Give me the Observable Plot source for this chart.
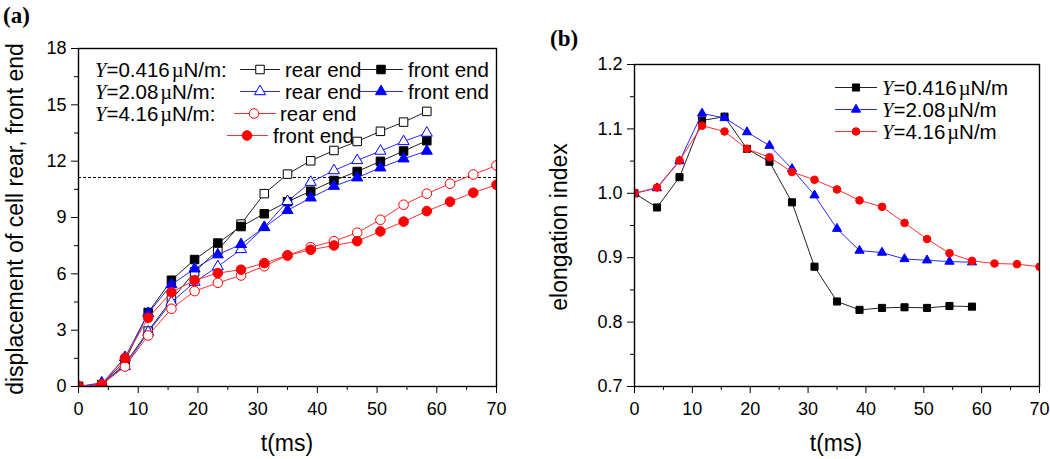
<!DOCTYPE html>
<html>
<head>
<meta charset="utf-8">
<script src="https://cdn.jsdelivr.net/npm/d3@7"></script>
<script src="https://cdn.jsdelivr.net/npm/@observablehq/plot@0.6"></script>
<style>
  html, body { margin: 0; padding: 0; background: #fff; }
  #wrap { position: relative; width: 1050px; height: 459px; background: #fff; overflow: hidden; }
  #wrap svg { position: absolute; top: 0; }
</style>
</head>
<body>
<div id="wrap"></div>
<script>
// ---------- data ----------
const times = [0, 3.89, 7.78, 11.67, 15.56, 19.44, 23.33, 27.22, 31.11, 35, 38.89, 42.78, 46.67, 50.56, 54.44, 58.33, 62.22, 66.11, 70];

// panel (a): displacement of cell rear / front end
const rear0416  = [0, 0.08, 1.2, 2.95, 4.62, 6.1, 7.27, 8.65, 10.27, 11.31, 12.02, 12.57, 13.05, 13.59, 14.08, 14.65];
const front0416 = [0, 0.1, 1.35, 3.94, 5.66, 6.76, 7.64, 8.52, 9.2, 9.84, 10.4, 10.97, 11.45, 11.99, 12.54, 13.09];
const rear208   = [0, 0.2, 1.07, 2.9, 4.49, 5.56, 6.39, 7.3, 8.48, 9.86, 10.88, 11.5, 12.04, 12.54, 13.05, 13.5];
const front208  = [0, 0.15, 1.55, 3.9, 5.43, 6.27, 7.02, 7.57, 8.47, 9.38, 10.05, 10.67, 11.12, 11.65, 12.13, 12.54];
const rear416   = [0, 0.1, 1.06, 2.72, 4.14, 5.08, 5.52, 5.91, 6.41, 6.98, 7.42, 7.74, 8.19, 8.88, 9.68, 10.27, 10.8, 11.29, 11.77];
const front416  = [0, 0.1, 1.52, 3.66, 5.02, 5.65, 6.04, 6.22, 6.57, 6.98, 7.28, 7.51, 7.74, 8.26, 8.78, 9.34, 9.84, 10.32, 10.74];
const dashLevel = [11.13];

// panel (b): elongation index
const ei0416 = [1.0, 0.978, 1.025, 1.113, 1.119, 1.069, 1.049, 0.986, 0.886, 0.832, 0.819, 0.822, 0.823, 0.822, 0.825, 0.824];
const ei208  = [1.0, 1.008, 1.05, 1.124, 1.117, 1.095, 1.074, 1.038, 0.997, 0.945, 0.911, 0.908, 0.898, 0.896, 0.894, 0.893];
const ei416  = [1.0, 1.009, 1.051, 1.105, 1.096, 1.069, 1.056, 1.033, 1.021, 1.006, 0.989, 0.979, 0.954, 0.929, 0.907, 0.895, 0.891, 0.890, 0.886];

// ticks
const xMajor = [0, 10, 20, 30, 40, 50, 60, 70];
const xMinor = [5, 15, 25, 35, 45, 55, 65];
const yMajorA = [0, 3, 6, 9, 12, 15, 18];
const yMinorA = [1.5, 4.5, 7.5, 10.5, 13.5, 16.5];
const yMajorB = [0.7, 0.8, 0.9, 1.0, 1.1, 1.2];
const yMinorB = [0.75, 0.85, 0.95, 1.05, 1.15];

// series labels
const yLabels = ["0.416", "2.08", "4.16"];
const colors = ["#000000", "#0000ff", "#ff0000"];
const lineColors = ["#222222", "#2a2aff", "#ff3030"];

// ---------- helpers ----------
const SANS = "'Liberation Sans', Arial, Helvetica, sans-serif";
const SERIF = "'Liberation Serif', 'Times New Roman', serif";
const rows = vals => vals.map((v, i) => ({t: times[i], v}));

const seriesA = [
  {vals: rear0416,  c: 0, symbol: "square",   filled: false, r: 4.8},
  {vals: front0416, c: 0, symbol: "square",   filled: true,  r: 4.8},
  {vals: rear208,   c: 1, symbol: "triangle", filled: false, r: 4.1},
  {vals: front208,  c: 1, symbol: "triangle", filled: true,  r: 4.1},
  {vals: rear416,   c: 2, symbol: "circle",   filled: false, r: 4.8},
  {vals: front416,  c: 2, symbol: "circle",   filled: true,  r: 4.8}
];
const seriesB = [
  {vals: ei0416, c: 0, symbol: "square",   filled: true, r: 4.0},
  {vals: ei208,  c: 1, symbol: "triangle", filled: true, r: 3.4},
  {vals: ei416,  c: 2, symbol: "circle",   filled: true, r: 3.8}
];

function seriesMarks(list) {
  const marks = [];
  for (const s of list) {
    const d = rows(s.vals);
    marks.push(Plot.line(d, {x: "t", y: "v", stroke: lineColors[s.c], strokeWidth: 1, clip: true}));
    marks.push(Plot.dot(d, {x: "t", y: "v", symbol: () => s.symbol, r: s.r,
      fill: s.filled ? colors[s.c] : "white", stroke: colors[s.c], strokeWidth: 1, clip: true}));
  }
  return marks;
}

function axes(yMajor, yMinor, yFmt) {
  return [
    Plot.frame({stroke: "black", strokeWidth: 1.4}),
    Plot.axisX(xMajor, {tickSize: 7, tickPadding: 9, label: null, fontSize: 18, stroke: "black"}),
    Plot.axisX(xMinor, {tickSize: 4, tickFormat: () => "", label: null, stroke: "black"}),
    Plot.axisY(yMajor, {tickSize: 7, tickPadding: 5, label: null, fontSize: 18, tickFormat: yFmt, stroke: "black"}),
    Plot.axisY(yMinor, {tickSize: 4, tickFormat: () => "", label: null, stroke: "black"})
  ];
}

const style = {fontFamily: SANS, fontSize: "18px", color: "black", background: "transparent", overflow: "visible"};

// ---------- panel (a) ----------
const plotA = Plot.plot({
  width: 530, height: 459,
  marginLeft: 78, marginRight: 34, marginTop: 48, marginBottom: 73,
  x: {domain: [0, 70]},
  y: {domain: [0, 18]},
  style,
  marks: [
    Plot.ruleY(dashLevel, {stroke: "black", strokeWidth: 1, strokeDasharray: "3,2"}),
    ...seriesMarks(seriesA),
    ...axes(yMajorA, yMinorA, d3.format("d"))
  ]
});
plotA.style.left = "0px";

// ---------- panel (b) ----------
const plotB = Plot.plot({
  width: 510, height: 459,
  marginLeft: 94, marginRight: 11, marginTop: 64, marginBottom: 73,
  x: {domain: [0, 70]},
  y: {domain: [0.7, 1.2]},
  style,
  marks: [
    ...seriesMarks(seriesB),
    ...axes(yMajorB, yMinorB, d3.format(".1f"))
  ]
});
plotB.style.left = "540px";

const wrap = document.getElementById("wrap");
wrap.appendChild(plotA);
wrap.appendChild(plotB);

// ---------- annotations (titles, panel letters, legends) ----------
function addText(svg, x, y, str, opts = {}) {
  return d3.select(svg).append("text")
    .attr("x", x).attr("y", y)
    .attr("font-family", opts.family || SANS)
    .attr("font-size", opts.size || 20)
    .attr("font-weight", opts.weight || "normal")
    .attr("text-anchor", opts.anchor || "start")
    .attr("fill", "black")
    .attr("transform", opts.transform || null)
    .text(str);
}

function symbolPath(name, r) {
  const type = name === "square" ? d3.symbolSquare : name === "triangle" ? d3.symbolTriangle : d3.symbolCircle;
  return d3.symbol(type, Math.PI * r * r)();
}

function legendEntry(svg, x0, x1, xm, y, s) {
  const g = d3.select(svg).append("g");
  g.append("line").attr("x1", x0).attr("x2", x1).attr("y1", y).attr("y2", y)
    .attr("stroke", lineColors[s.c]).attr("stroke-width", 1);
  g.append("path").attr("d", symbolPath(s.symbol, s.r))
    .attr("transform", `translate(${xm},${y})`)
    .attr("fill", s.filled ? colors[s.c] : "white")
    .attr("stroke", colors[s.c]).attr("stroke-width", 1);
}

function yLabel(svg, x, y, value, size, colon) {
  const t = d3.select(svg).append("text").attr("x", x).attr("y", y)
    .attr("text-anchor", "start")
    .attr("font-size", size).attr("font-family", SANS).attr("fill", "black");
  t.append("tspan").attr("font-family", SERIF).attr("font-style", "italic").text("Y");
  t.append("tspan").text("=" + value);
  t.append("tspan").attr("font-family", SERIF).attr("dx", 2).text("\u00b5");
  t.append("tspan").text("N/m" + (colon ? ":" : ""));
}

// panel (a) text
addText(plotA, 3, 23, "(a)", {family: SERIF, weight: "bold", size: 23});
addText(plotA, 287, 451, "t(ms)", {anchor: "middle", size: 23});
addText(plotA, 0, 0, "displacement of cell rear, front end",
  {anchor: "middle", size: 23, transform: "translate(23,219) rotate(-90)"});

// panel (a) legend
const rowY = [69.5, 91.5, 113.5, 135.5];
const lsA = 20.5;
yLabel(plotA, 95, rowY[0] + 7, yLabels[0], lsA, true);
yLabel(plotA, 95, rowY[1] + 7, yLabels[1], lsA, true);
yLabel(plotA, 95, rowY[2] + 7, yLabels[2], lsA, true);
legendEntry(plotA, 240, 280, 260, rowY[0], seriesA[0]);
addText(plotA, 285, rowY[0] + 7, "rear end", {size: lsA});
legendEntry(plotA, 360, 403, 381, rowY[0], seriesA[1]);
addText(plotA, 408, rowY[0] + 7, "front end", {size: lsA});
legendEntry(plotA, 240, 280, 260, rowY[1], seriesA[2]);
addText(plotA, 285, rowY[1] + 7, "rear end", {size: lsA});
legendEntry(plotA, 360, 403, 381, rowY[1], seriesA[3]);
addText(plotA, 408, rowY[1] + 7, "front end", {size: lsA});
legendEntry(plotA, 234, 276, 254, rowY[2], seriesA[4]);
addText(plotA, 280, rowY[2] + 7, "rear end", {size: lsA});
legendEntry(plotA, 227, 268, 247, rowY[3], seriesA[5]);
addText(plotA, 273, rowY[3] + 7, "front end", {size: lsA});

// panel (b) text
addText(plotB, 10, 46, "(b)", {family: SERIF, weight: "bold", size: 23});
addText(plotB, 296, 451, "t(ms)", {anchor: "middle", size: 23});
addText(plotB, 0, 0, "elongation index",
  {anchor: "middle", size: 23, transform: "translate(27,227) rotate(-90)"});

// panel (b) legend
const rowYB = [87.5, 109.5, 131.5];
seriesB.forEach((s, i) => {
  legendEntry(plotB, 295, 337, 316, rowYB[i], s);
  yLabel(plotB, 342, rowYB[i] + 7, yLabels[i], 20.5, false);
});
</script>
</body>
</html>
